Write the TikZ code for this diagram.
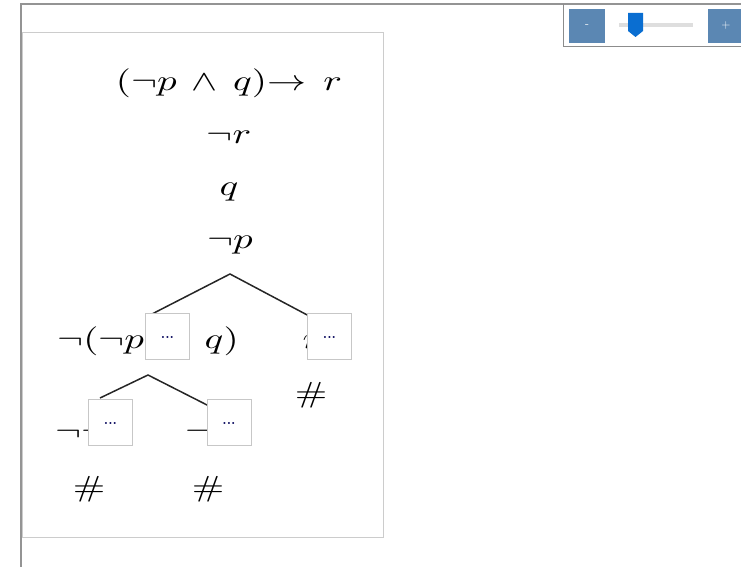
\documentclass[tikz,border=0pt]{standalone}
\usepackage{graphicx}
\definecolor{zoomblue}{HTML}{5B87B3}
\definecolor{knobblue}{HTML}{0A6ED1}
\newcommand\fml[1]{\scalebox{3.9}[2.9]{$#1$}}
\newcommand\moredots{\raisebox{-4pt}{...}}

\begin{document}
\begin{tikzpicture}[
    x=1pt, y=-1pt,
    frame/.style={draw=black!42, line width=1.3pt},
    panel/.style={draw=black!20, line width=1pt},
    fml/.style={inner sep=0pt, anchor=base},
    branch/.style={line width=1.5pt, black!85},
    popup/.style={draw=black!22, fill=white, line width=0.9pt, minimum width=44pt,
      minimum height=46pt, inner sep=0pt, font=\fontsize{14}{14}\selectfont\bfseries, text=blue!35!black},
    zoombtn/.style={fill=zoomblue, text=white, minimum width=36pt, minimum height=34pt,
      inner sep=0pt, font=\fontsize{12}{12}\selectfont\sffamily},
  ]
  \useasboundingbox (0,0) rectangle (741,567);

  % --- page frame and picture panel -----------------------------------------
  \draw[frame] (21,567) -- (21,4) -- (741,4);
  \draw[panel] (22.5,33) rectangle (383,537);

  % --- zoom control ----------------------------------------------------------
  \draw[black!45, line width=1pt] (563,4) -- (563,46.5) -- (741,46.5);
  \node[zoombtn] (zoomout) at (587,26) {-};
  \node[zoombtn] (zoomin) at (726,26) {+};
  \fill[black!13] (619,23) rectangle (693,27);
  \fill[knobblue] (628,13) -- (643,13) -- (643,31) -- (635.5,37) -- (628,31) -- cycle;

  % --- trunk of the tableau ---------------------------------------------------
  \node[fml] (prem) at (229,91)  {\fml{(\neg p\mskip3mu\wedge\mskip3mu q)\mathord{\to}\mskip8mu r}};
  \node[fml] (negr) at (229,143.5) {\fml{\neg r}};
  \node[fml] (q)    at (229,195.5) {\fml{q}};
  \node[fml] (negp) at (230,248) {\fml{\neg p}};

  % --- first split ------------------------------------------------------------
  \coordinate (fork1)  at (230,274);
  \coordinate (left1)  at (152,314);
  \coordinate (right1) at (311,317);
  \draw[branch] (left1) -- (fork1) -- (right1);

  \node[fml] (negconj) at (148,348) {\fml{\neg(\neg p\mskip4mu\wedge\mskip4mu q)}};
  \node[fml] (r)       at (312,348) {\fml{r}};
  \node[fml] (closeR)  at (311,402) {\fml{\#}};

  % --- second split -----------------------------------------------------------
  \coordinate (fork2)  at (148,375);
  \coordinate (left2)  at (100,398);
  \coordinate (right2) at (209,406);
  \draw[branch] (left2) -- (fork2) -- (right2);

  \node[fml] (nnp)    at (91,440)  {\fml{\neg\neg p}};
  \node[fml] (nq)     at (208,440) {\fml{\neg q}};
  \node[fml] (closeL) at (89,496)  {\fml{\#}};
  \node[fml] (closeM) at (208,496) {\fml{\#}};

  % --- hover boxes on top ------------------------------------------------------
  \node[popup] (tip1) at (167.5,336.5) {\moredots};
  \node[popup] (tip2) at (329.5,336.5) {\moredots};
  \node[popup] (tip3) at (110.5,422)   {\moredots};
  \node[popup] (tip4) at (229,422)     {\moredots};

\end{tikzpicture}
\end{document}
